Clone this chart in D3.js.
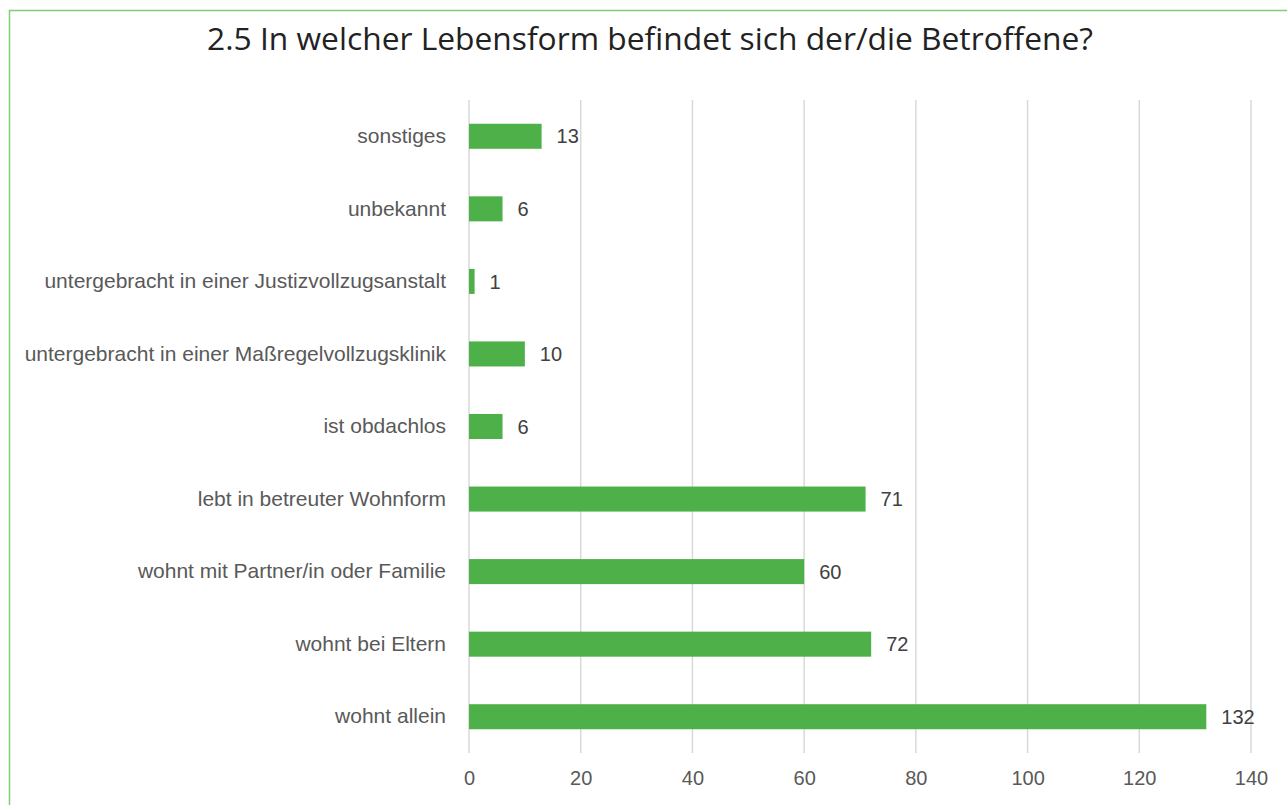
<!DOCTYPE html>
<html><head><meta charset="utf-8">
<script src="https://cdn.jsdelivr.net/npm/d3@7"></script>
<style>body{margin:0;background:#fff}svg{display:block}</style>
</head><body>
<svg id="c" width="1287" height="805"></svg>
<script>
const title = "2.5 In welcher Lebensform befindet sich der/die Betroffene?";
const categories = ["sonstiges","unbekannt","untergebracht in einer Justizvollzugsanstalt","untergebracht in einer Maßregelvollzugsklinik","ist obdachlos","lebt in betreuter Wohnform","wohnt mit Partner/in oder Familie","wohnt bei Eltern","wohnt allein"];
const values = [13,6,1,10,6,71,60,72,132];
const xTicks = [0,20,40,60,80,100,120,140];

const svg = d3.select("#c");
const m={left:469,right:1251,top:100,bottom:753};
svg.append("rect").attr("x",9.5).attr("y",10.5).attr("width",1300).attr("height",900)
  .attr("fill","none").attr("stroke","#7fd073").attr("stroke-width",1.5);

const t = svg.append("text").attr("x",650).attr("y",50).attr("text-anchor","middle")
  .attr("font-family","'Open Sans', Lato, sans-serif").attr("font-size",28).attr("fill","#222")
  .text(title);
const tw = t.node().getComputedTextLength();
t.attr("font-size", 28*886/tw);

const x=d3.scaleLinear().domain([0,140]).range([m.left,m.right]);
const y=d3.scaleBand().domain(categories).range([m.top,m.bottom]).paddingInner(0.655).paddingOuter(0.3275);

svg.append("g").selectAll("line").data(xTicks).join("line")
  .attr("x1",d=>x(d)).attr("x2",d=>x(d)).attr("y1",m.top).attr("y2",m.bottom)
  .attr("stroke","#d9d9d9").attr("stroke-width",1.5);
const ax=svg.append("g").attr("transform",`translate(0,${m.bottom})`)
  .call(d3.axisBottom(x).tickValues(xTicks).tickSize(0).tickPadding(18));
ax.select(".domain").remove();
ax.selectAll("text").attr("font-family","'Liberation Sans', Arial, sans-serif").attr("font-size",20).attr("fill","#595959");

svg.append("g").selectAll("rect").data(values).join("rect")
  .attr("x",x(0)).attr("y",(d,i)=>y(categories[i])).attr("height",y.bandwidth())
  .attr("width",d=>x(d)-x(0)).attr("fill","#4eb049");

svg.append("g").selectAll("text").data(values).join("text")
  .attr("x",d=>x(d)+15).attr("y",(d,i)=>y(categories[i])+y.bandwidth()/2).attr("dy","0.36em")
  .attr("font-family","'Liberation Sans', Arial, sans-serif").attr("font-size",20).attr("fill","#404040")
  .text(d=>d);

const ay=svg.append("g").attr("transform",`translate(${m.left},0)`)
  .call(d3.axisLeft(y).tickSize(0).tickPadding(23));
ay.select(".domain").remove();
ay.selectAll("text").attr("font-family","'Liberation Sans', Arial, sans-serif").attr("font-size",21)
  .attr("fill","#595959");
</script>
</body></html>
